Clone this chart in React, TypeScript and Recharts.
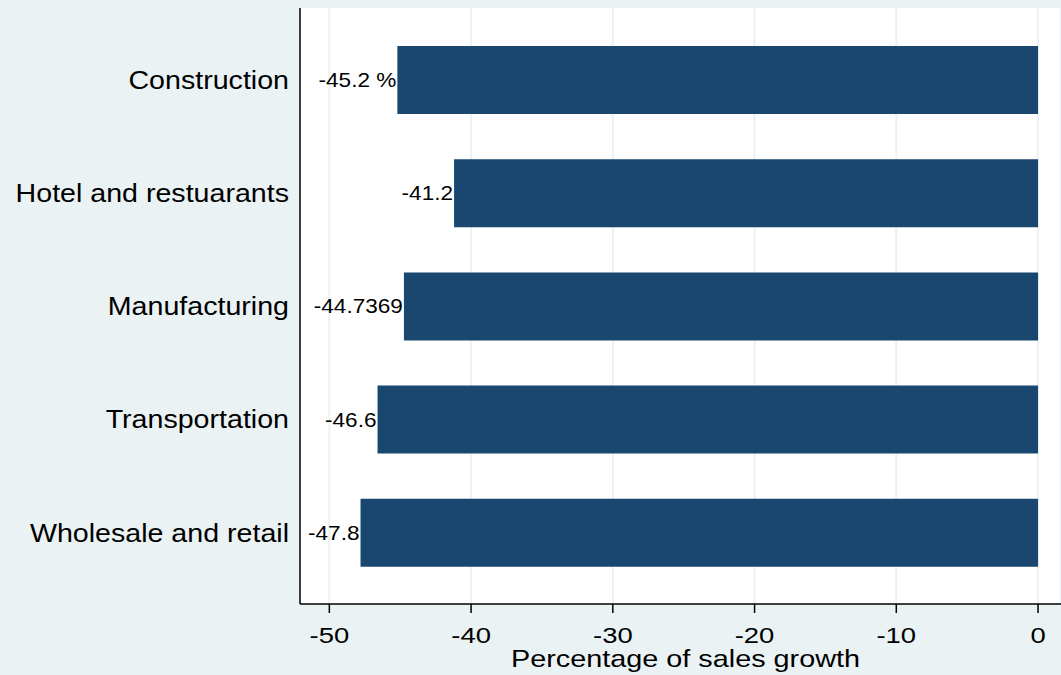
import React from "react";
import { BarChart, Bar, XAxis, YAxis, CartesianGrid, LabelList } from "recharts";

const categories = [
  "Construction",
  "Hotel and restuarants",
  "Manufacturing",
  "Transportation",
  "Wholesale and retail",
];
const salesGrowth = [-45.2, -41.2, -44.7369, -46.6, -47.8];
const valueLabels = ["-45.2 %", "-41.2", "-44.7369", "-46.6", "-47.8"];
const xTicks = [-50, -40, -30, -20, -10, 0];
const xTitle = "Percentage of sales growth";

const data = categories.map((name, i) => ({
  name,
  value: salesGrowth[i],
  label: valueLabels[i],
}));

const FONT = "'Liberation Sans', Arial, Helvetica, sans-serif";

const YTick = (props: any) => {
  const { x, y, payload } = props;
  return (
    <text
      transform={`translate(${x},${y}) scale(1.1,1)`}
      textAnchor="end"
      dy="0.35em"
      fontSize={26}
      fontFamily={FONT}
      fill="#000"
    >
      {payload.value}
    </text>
  );
};

const XTick = (props: any) => {
  const { x, y, payload } = props;
  return (
    <text
      transform={`translate(${x},${y + 28}) scale(1.22,1)`}
      textAnchor="middle"
      fontSize={22.5}
      fontFamily={FONT}
      fill="#000"
    >
      {payload.value}
    </text>
  );
};

const TitleLabel = (props: any) => {
  const vb = props.viewBox || { x: 300, y: 604, width: 761, height: 71 };
  return (
    <text
      transform={`translate(${vb.x + vb.width / 2 + 5},${vb.y + 63}) scale(1.2,1)`}
      textAnchor="middle"
      fontSize={24}
      fontFamily={FONT}
      fill="#000"
    >
      {xTitle}
    </text>
  );
};

const ValueLabel = (props: any) => {
  const vb = props.viewBox || props;
  const x = Number(vb.x);
  const w = Number(vb.width);
  const y = Number(vb.y);
  const h = Number(vb.height);
  const left = Math.min(x, x + w);
  return (
    <text
      transform={`translate(${left - 1},${y + h / 2}) scale(1.13,1)`}
      textAnchor="end"
      dy="0.35em"
      fontSize={20}
      fontFamily={FONT}
      fill="#000"
    >
      {props.value}
    </text>
  );
};

export default function App() {
  return (
    <div
      style={{
        position: "absolute",
        top: 0,
        left: 0,
        width: 1061,
        height: 675,
        background: "#EAF2F3",
      }}
    >
      <BarChart
        layout="vertical"
        width={1061}
        height={675}
        data={data}
        margin={{ top: 8, right: 0, left: 0, bottom: 0 }}
      >
        <CartesianGrid
          horizontal={false}
          vertical={true}
          fill="#FFFFFF"
          stroke="#EAF2F3"
          strokeWidth={2}
        />
        <XAxis
          type="number"
          domain={[-52.07, 1.62]}
          ticks={xTicks}
          height={71}
          axisLine={{ stroke: "#000", strokeWidth: 1.5 }}
          tickLine={{ stroke: "#000", strokeWidth: 1.5 }}
          tickSize={9}
          tickMargin={2}
          tick={<XTick />}
          interval={0}
          label={<TitleLabel />}
        />
        <YAxis
          type="category"
          dataKey="name"
          width={300}
          padding={{ top: 15, bottom: 15 }}
          axisLine={{ stroke: "#000", strokeWidth: 1.5 }}
          tickLine={false}
          tickSize={0}
          tickMargin={11}
          tick={<YTick />}
          interval={0}
        />
        <Bar dataKey="value" fill="#1A476F" barSize={68} isAnimationActive={false}>
          <LabelList dataKey="label" content={<ValueLabel />} />
        </Bar>
      </BarChart>
    </div>
  );
}
